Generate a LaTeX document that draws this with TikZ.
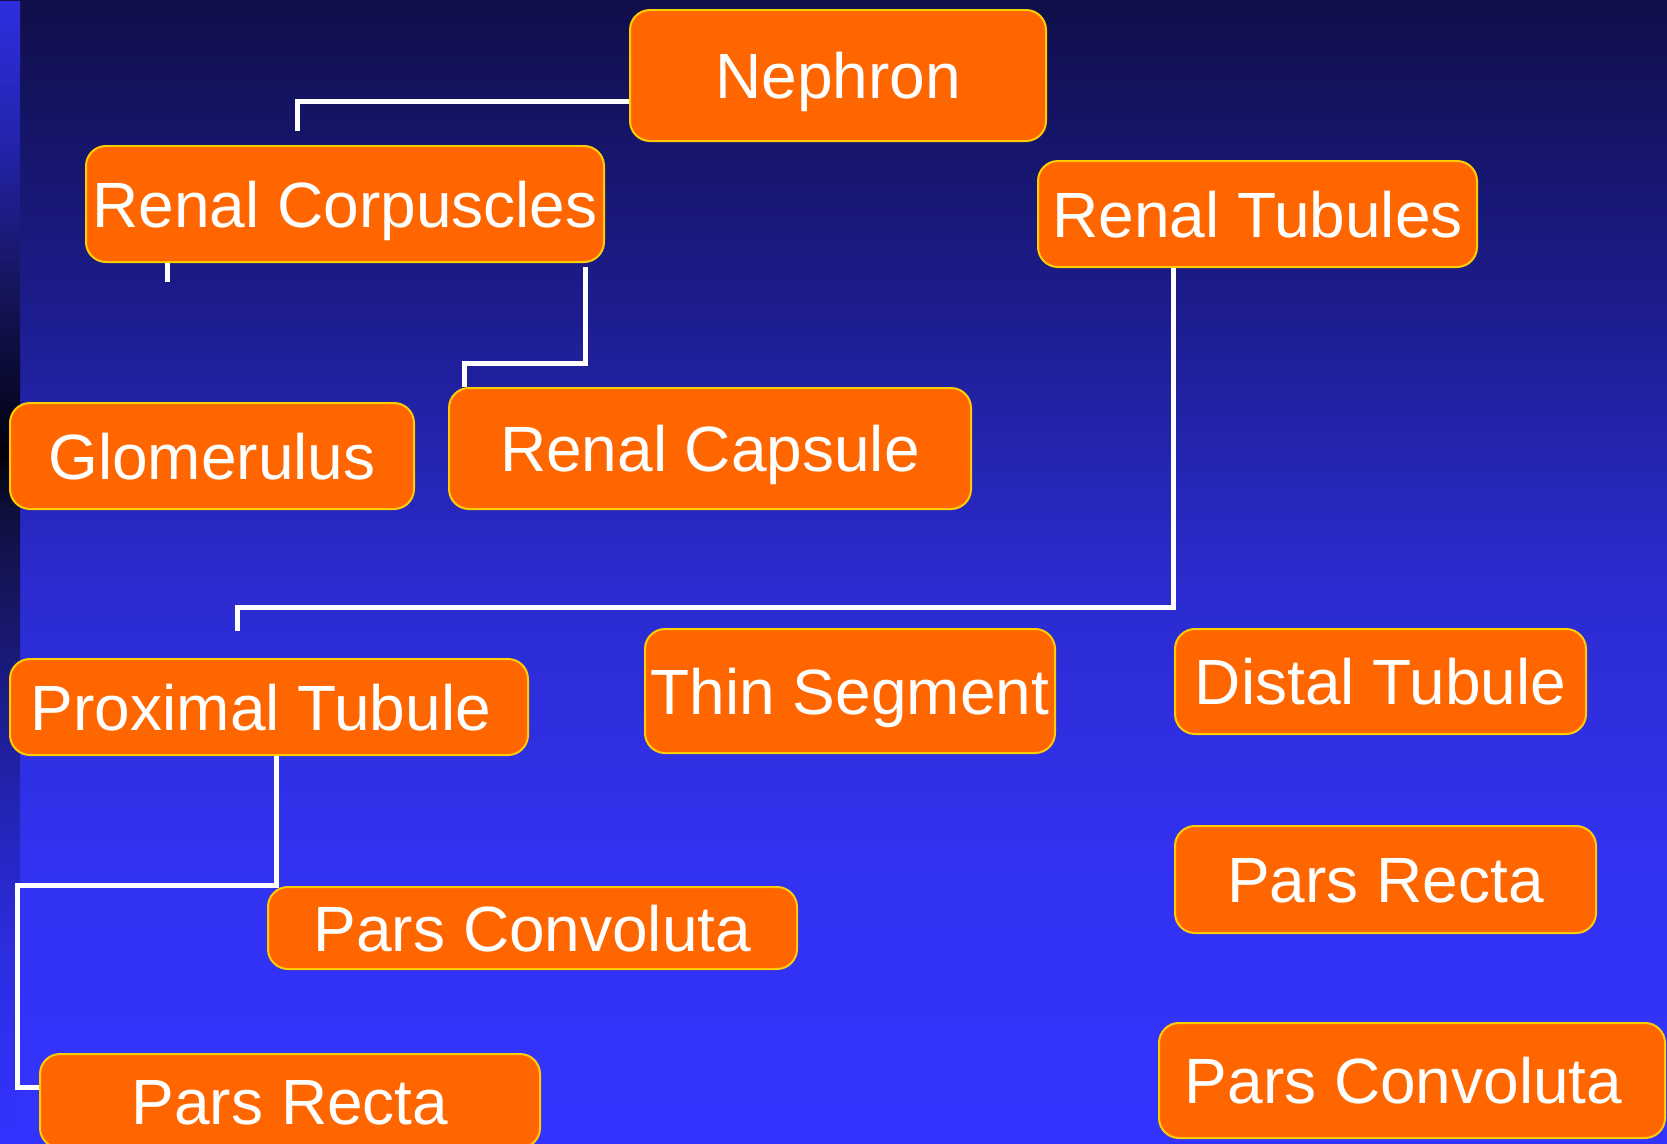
\documentclass[tikz,border=0pt]{standalone}
\usepackage{fontspec}
\setmainfont{Liberation Sans}
\definecolor{boxfill}{RGB}{255,102,0}
\definecolor{boxline}{RGB}{255,204,0}
\definecolor{bgtop}{rgb}{0.063,0.059,0.29}
\pgfdeclareverticalshading{bgshade}{1671pt}{rgb(0pt)=(0.2,0.2,1); rgb(295pt)=(0.196,0.196,0.94); rgb(565pt)=(0.169,0.169,0.81); rgb(845pt)=(0.11,0.11,0.55); rgb(1147pt)=(0.063,0.059,0.29)}
\pgfdeclareverticalshading{stripeshade}{20pt}{rgb(0pt)=(0.2,0.2,1); rgb(195pt)=(0.176,0.176,0.88); rgb(341pt)=(0.137,0.137,0.7); rgb(487pt)=(0.1,0.1,0.47); rgb(633pt)=(0.06,0.06,0.24); rgb(673pt)=(0.02,0.02,0.08); rgb(688pt)=(0,0,0.03); rgb(743pt)=(0.03,0.03,0.16); rgb(851pt)=(0.08,0.08,0.35); rgb(997pt)=(0.137,0.137,0.667); rgb(1143pt)=(0.18,0.18,0.88)}
\begin{document}
\begin{tikzpicture}[x=1pt,y=-1pt,
  orbox/.style={draw=boxline, line width=2pt, fill=boxfill, rounded corners=20pt,
    inner sep=0pt, text=white, text height=46pt, text depth=0pt,
    font=\fontsize{64}{70}\selectfont},
  link/.style={draw=white, line width=5pt}]
\useasboundingbox (0,0) rectangle (1667,1143);
\fill[bgtop] (-5,-5) rectangle (1672,1148);
\node[inner sep=0pt, anchor=north west] (bg) at (-2,-2) {\pgfuseshading{bgshade}};
\node[inner sep=0pt, anchor=north west] (stripe) at (0,0) {\pgfuseshading{stripeshade}};
% coordinates for free connector ends
\coordinate (c1e) at (297.5,131);
\coordinate (c2e) at (167,282);
\coordinate (c3s) at (585.5,267);
\coordinate (c3m) at (464,363);
\coordinate (c4m) at (237,607);
\coordinate (c4e) at (237,631);
\coordinate (c5a) at (17,885);
% boxes
\node[orbox, minimum width=416pt, minimum height=131pt] (nephron) at (838,75.5) {Nephron};
\node[orbox, minimum width=518pt, minimum height=116pt] (corp) at (345,204) {Renal Corpuscles};
\node[orbox, minimum width=439pt, minimum height=106pt] (tub) at (1257.5,214) {Renal Tubules};
\node[orbox, minimum width=404pt, minimum height=106pt] (glom) at (212,456) {Glomerulus};
\node[orbox, minimum width=522pt, minimum height=121pt] (caps) at (710,448.5) {Renal Capsule};
\node[orbox, minimum width=410pt, minimum height=124pt] (thin) at (850,691) {Thin Segment};
\node[orbox, minimum width=411pt, minimum height=105pt] (distal) at (1380.5,681.5) {Distal Tubule};
\node[orbox, minimum width=518pt, minimum height=96pt] (prox) at (269,707) {Proximal Tubule\kern16pt};
\node[orbox, minimum width=529pt, minimum height=82pt] (pc1) at (532.5,928) {Pars Convoluta};
\node[orbox, minimum width=500pt, minimum height=94pt] (pr1) at (290,1101) {Pars Recta};
\node[orbox, minimum width=421pt, minimum height=107pt] (pr2) at (1385.5,879.5) {Pars Recta};
\node[orbox, minimum width=506pt, minimum height=115pt] (pc2) at (1412,1080.5) {Pars Convoluta\kern17pt};
% connectors
\draw[link] ([yshift=-26pt]nephron.west) -| (c1e);
\draw[link] (corp.south -| c2e) -- (c2e);
\draw[link] (c3s) |- (c3m) -- (c3m |- caps.north);
\draw[link] ([xshift=-84.5pt]tub.south) |- (c4m) -- (c4e);
\draw[link] ([xshift=7pt]prox.south) |- (c5a) |- ([yshift=14pt]pr1.west);
\end{tikzpicture}
\end{document}
